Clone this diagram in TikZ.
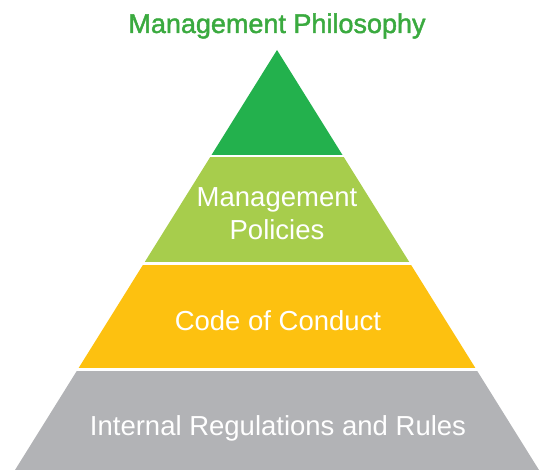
\documentclass[tikz,border=0pt]{standalone}
\usepackage{fontspec}
\setmainfont{Liberation Sans}
\newfontfamily\titlefont[FakeBold=1.6]{Liberation Sans}
\definecolor{cgreen}{HTML}{23B14D}
\definecolor{clime}{HTML}{A7CD4C}
\definecolor{cyellow}{HTML}{FDC110}
\definecolor{cgray}{HTML}{B2B3B6}
\definecolor{ctitle}{HTML}{3AAA3F}
\begin{document}
\begin{tikzpicture}[x=1pt,y=-1pt,
  lbl/.style={text=white,font=\fontsize{27.5}{33}\selectfont,anchor=base,inner sep=0pt}]
\useasboundingbox (0,0) rectangle (540,470);
\begin{scope}
  \clip (277,50) -- (15,470) -- (539,470) -- cycle;
  \fill[cgreen] (0,0) rectangle (540,155);
  \fill[clime] (0,157.4) rectangle (540,261.8);
  \fill[cyellow] (0,264.6) rectangle (540,368.4);
  \fill[cgray] (0,370.6) rectangle (540,470);
\end{scope}
\node[lbl,text=ctitle,font=\titlefont\fontsize{27}{33}\selectfont] (title) at (277,33) {Management Philosophy};
\node[lbl] (mp1) at (277,207) {Management};
\node[lbl] (mp2) at (277,239) {Policies};
\node[lbl] (cc) at (278,330) {Code of Conduct};
\node[lbl] (irr) at (278,435) {Internal Regulations and Rules};
\end{tikzpicture}
\end{document}
